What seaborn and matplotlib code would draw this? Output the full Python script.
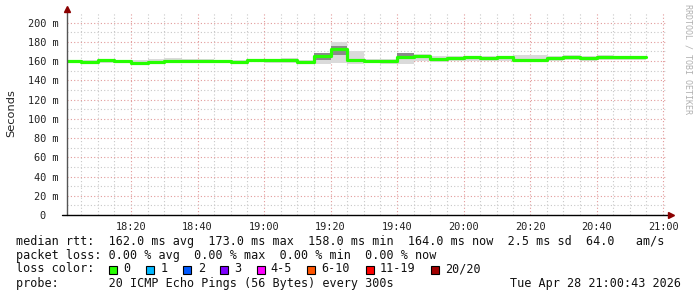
import numpy as np
import pandas as pd
import matplotlib
matplotlib.use("Agg")
import matplotlib.pyplot as plt
from matplotlib.patches import Rectangle
import seaborn as sns

# ---------------- data ----------------
start_time = "2026-04-28 18:00"
median_rtt = [160.0, 159.0, 161.0, 160.0, 158.0, 159.5, 160.5, 160.5, 160.5, 160.0,
              159.5, 161.0, 161.0, 161.0, 159.5, 165.5, 173.0, 161.0, 160.5, 160.5,
              164.0, 165.0, 162.5, 163.0, 164.0, 163.5, 164.0, 161.5, 161.5, 163.5,
              164.5, 163.5, 164.0, 164.0, 164.0]
smoke_hi = [161.5, 161.5, 162.5, 161.5, 161.0, 162.5, 163.5, 162.0, 162.0, 161.5,
            161.5, 162.5, 162.5, 163.0, 161.5, 168.5, 180.0, 170.0, 162.5, 162.0,
            167.0, 167.0, 165.0, 165.5, 165.5, 165.0, 165.5, 166.0, 166.0, 165.5,
            166.5, 165.5, 166.0, 165.5, 165.5]
smoke_lo = [158.0, 157.5, 158.5, 158.0, 157.0, 157.5, 158.0, 158.0, 158.5, 158.0,
            157.5, 159.0, 158.5, 158.5, 158.0, 157.0, 158.0, 157.0, 158.0, 157.5,
            157.0, 160.0, 159.5, 160.0, 160.5, 160.0, 160.5, 159.0, 159.5, 160.5,
            161.0, 160.5, 161.0, 161.0, 161.0]
inner_lo = [159.0, 158.5, 160.0, 159.0, 157.5, 158.5, 159.5, 159.5, 159.5, 159.0,
            158.5, 160.0, 160.0, 160.0, 158.5, 161.0, 166.0, 159.5, 159.5, 159.5,
            163.0, 164.0, 161.5, 162.0, 163.0, 162.5, 163.0, 160.5, 160.5, 162.5,
            163.5, 162.5, 163.0, 163.0, 163.0]
inner_hi = [161.0, 160.5, 162.0, 161.0, 159.5, 160.5, 161.5, 161.5, 161.5, 161.0,
            160.5, 162.0, 162.0, 162.0, 160.5, 168.0, 176.0, 162.0, 161.5, 161.5,
            168.0, 166.5, 163.5, 164.5, 165.0, 164.5, 165.0, 162.5, 162.5, 164.5,
            165.5, 164.5, 165.0, 165.0, 165.0]

x_tick_minutes = [20, 40, 60, 80, 100, 120, 140, 160, 180]
x_tick_labels = ["18:20", "18:40", "19:00", "19:20", "19:40", "20:00", "20:20", "20:40", "21:00"]
y_ticks = [0, 20, 40, 60, 80, 100, 120, 140, 160, 180, 200]
y_tick_labels = ["0  ", "20 m", "40 m", "60 m", "80 m", "100 m", "120 m", "140 m",
                 "160 m", "180 m", "200 m"]

loss_labels = ["0", "1", "2", "3", "4-5", "6-10", "11-19", "20/20"]
loss_colors = ["#26ff00", "#00b8ff", "#0059ff", "#7e00ff", "#ff00ff", "#ff5500",
               "#ff0000", "#a10000"]

line1 = "median rtt:  162.0 ms avg  173.0 ms max  158.0 ms min  164.0 ms now  2.5 ms sd  64.0   am/s"
line2 = "packet loss: 0.00 % avg  0.00 % max  0.00 % min  0.00 % now"
line3 = "loss color:"
line4 = "probe:       20 ICMP Echo Pings (56 Bytes) every 300s"
stamp = "Tue Apr 28 21:00:43 2026"

# ---------------- build frame ----------------
times = pd.date_range(start_time, periods=len(median_rtt) + 1, freq="5min")
t_min = ((times - times[0]).total_seconds() / 60.0).to_numpy()
df = pd.DataFrame({"t": t_min,
                   "rtt": median_rtt + [median_rtt[-1]],
                   "lo": smoke_lo + [smoke_lo[-1]],
                   "hi": smoke_hi + [smoke_hi[-1]],
                   "ilo": inner_lo + [inner_lo[-1]],
                   "ihi": inner_hi + [inner_hi[-1]]})

# ---------------- figure ----------------
sns.set_theme(style="white")
plt.rcParams["font.family"] = ["DejaVu Sans Mono", "DejaVu Sans"]

W, H = 697, 297
fig = plt.figure(figsize=(W / 100, H / 100), dpi=100)
fig.patch.set_facecolor("white")


def fx(x):
    return x / W


def fy(y):
    return 1 - y / H


ax = fig.add_axes([fx(67), fy(215), 598.5 / W, 202 / H])
ax.set_facecolor("white")

ax.fill_between(df["t"], df["lo"], df["hi"], step="post", color="#dadada", lw=0, zorder=2)
ax.fill_between(df["t"], df["ilo"], df["ihi"], step="post", color="#8a8a8a", lw=0, zorder=3)
sns.lineplot(data=df, x="t", y="rtt", drawstyle="steps-post", color="#26ff00",
             lw=2.3, ax=ax, zorder=5, legend=False)

ax.set_xlim(0.72, 180.72)
ax.set_ylim(0, 210)

ax.set_xticks(x_tick_minutes)
ax.set_xticklabels(x_tick_labels)
ax.set_xticks(np.arange(5, 181, 5), minor=True)
ax.set_yticks(y_ticks)
ax.set_yticklabels(y_tick_labels)
ax.set_yticks(np.arange(10, 210, 10), minor=True)

ax.set_axisbelow(True)
ax.grid(which="minor", color="#c8c8c8", linestyle=(0, (1, 2)), lw=0.8)
ax.grid(which="major", color="#e29a9a", linestyle=(0, (1, 2)), lw=0.8)

ax.tick_params(axis="both", which="both", length=0)
ax.tick_params(axis="x", pad=5, labelsize=7.4, colors="#222222")
ax.tick_params(axis="y", pad=6, labelsize=7.4, colors="#222222")
for lab in ax.get_xticklabels() + ax.get_yticklabels():
    lab.set_color("#222222")

for s in ax.spines.values():
    s.set_visible(False)
ax.set_xlabel("")
ax.set_ylabel("")

# axis lines with arrows
ax.plot([0, 0], [0, 1.015], transform=ax.transAxes, color="#555555", lw=1.0,
        clip_on=False, zorder=6)
ax.plot([-0.008, 1.0075], [0, 0], transform=ax.transAxes, color="#000000", lw=1.0,
        clip_on=False, zorder=6)
ax.plot([0], [1.02], marker="^", ms=4, color="#8b0000", transform=ax.transAxes,
        clip_on=False, zorder=7)
ax.plot([1.0085], [0], marker=">", ms=4, color="#8b0000", transform=ax.transAxes,
        clip_on=False, zorder=7)

# y label and watermark
fig.text(fx(11), fy(113), "Seconds", rotation=90, ha="center", va="center",
         fontsize=8.2, family="DejaVu Sans", color="#222222")
fig.text(fx(688), fy(4), "RRDTOOL / TOBI OETIKER", rotation=270, ha="center",
         va="top", fontsize=6.0, color="#b0b0b0")

# legend text
fs = 8.5
tc = "#111111"
fig.text(fx(16), fy(241), line1, ha="left", va="center", fontsize=fs, color=tc)
fig.text(fx(16), fy(255), line2, ha="left", va="center", fontsize=fs, color=tc)
fig.text(fx(16), fy(269), line3, ha="left", va="center", fontsize=fs, color=tc)
fig.text(fx(16), fy(283), line4, ha="left", va="center", fontsize=fs, color=tc)
fig.text(fx(681), fy(283), stamp, ha="right", va="center", fontsize=fs, color=tc)

box_x = [108.7, 145.7, 182.7, 219.7, 257.0, 306.7, 365.7, 430.7]
lab_x = [123.3, 160.7, 197.7, 234.3, 270.7, 321.0, 380.0, 445.3]
for bx, lx, lab, col in zip(box_x, lab_x, loss_labels, loss_colors):
    fig.add_artist(Rectangle((fx(bx), fy(273.5)), 8 / W, 8 / H, transform=fig.transFigure,
                             facecolor=col, edgecolor="black", lw=0.8))
    fig.text(fx(lx), fy(269), lab, ha="left", va="center", fontsize=fs, color=tc)

fig.savefig("out.png", dpi=100)
